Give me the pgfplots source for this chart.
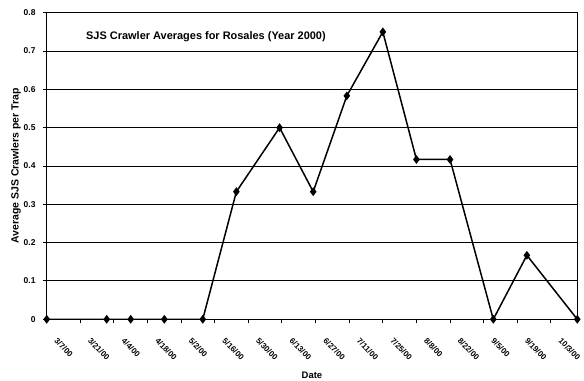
\documentclass[border=0pt]{standalone}
\usepackage{pgfplots}
\pgfplotsset{compat=1.18}
\usepackage{fontspec}
\setmainfont{Liberation Sans}

% Sampling dates as days after 3/7/00, average crawlers per trap
\pgfplotstableread{
day  avg
0    0
25   0
35   0
49   0
65   0
79   0.333
97   0.5
111  0.333
125  0.583
140  0.75
154  0.417
168  0.417
186  0
200  0.167
221  0
}\crawlers

\begin{document}
\begin{tikzpicture}
\begin{axis}[
  name=ax,
  scale only axis,
  width=530.6bp, height=306.6bp,
  xmin=0, xmax=221,
  ymin=0, ymax=0.8,
  ytick={0,0.1,0.2,0.3,0.4,0.5,0.6,0.7,0.8},
  yticklabels={0,0.1,0.2,0.3,0.4,0.5,0.6,0.7,0.8},
  xtick={0,14,28,42,56,70,84,98,112,126,140,154,168,182,196,210},
  xticklabels={3/7/00,3/21/00,4/4/00,4/18/00,5/2/00,5/16/00,5/30/00,6/13/00,
               6/27/00,7/11/00,7/25/00,8/8/00,8/22/00,9/5/00,9/19/00,10/3/00},
  ymajorgrids,
  grid style={black, line width=1bp},
  axis line style={black, line width=1.4bp},
  tick style={black, line width=1bp},
  major tick length=4bp,
  tick align=outside,
  xtick pos=bottom, ytick pos=left,
  yticklabel style={font=\fontsize{8.5}{9}\selectfont\bfseries, inner sep=0pt, xshift=-7bp},
  xticklabel style={font=\fontsize{8}{9}\selectfont\bfseries, rotate=-45,
                    anchor=north west, inner sep=0pt, xshift=18bp, yshift=-2bp},
  /pgf/number format/assume math mode=true,
]
\addplot[black, line width=1.5bp, mark=diamond*, mark size=3.2bp,
         mark options={solid, fill=black}] table[x=day, y=avg] {\crawlers};
\node[anchor=west, inner sep=0pt, font=\fontsize{11}{13}\selectfont\bfseries]
  at (rel axis cs:0.074,0.921) {SJS Crawler Averages for Rosales (Year 2000)};
\end{axis}
\node[rotate=90, inner sep=0pt, font=\fontsize{10.5}{12}\selectfont\bfseries]
  at ([shift={(-30.7bp,153.3bp)}]ax.south west) {Average SJS Crawlers per Trap};
\node[inner sep=0pt, font=\fontsize{9.5}{11}\selectfont\bfseries]
  at ([shift={(265.3bp,-55.7bp)}]ax.south west) {Date};
\pgfresetboundingbox
\path ([shift={(-46.7bp,-61.7bp)}]ax.south west) rectangle ++(584bp,381bp);
\end{tikzpicture}
\end{document}
